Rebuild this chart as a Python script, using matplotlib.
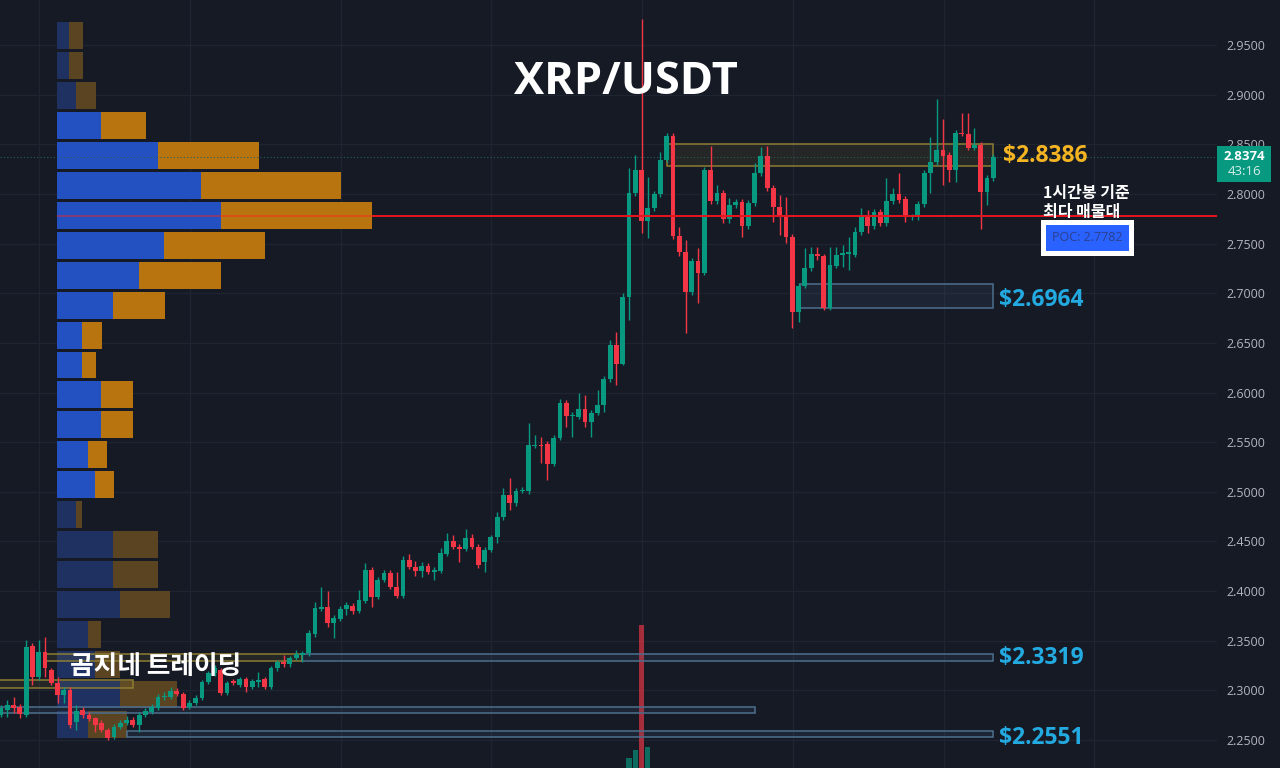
import matplotlib
matplotlib.use("Agg")
import matplotlib.pyplot as plt
import matplotlib.transforms as mtransforms
from matplotlib.patches import Rectangle

plt.rcParams['font.family'] = ['Noto Sans CJK KR', 'DejaVu Sans']

# ---------------------------------------------------------------- data
# XRP/USDT hourly candles
opens = [2.2753, 2.2803, 2.2854, 2.2834, 2.2753, 2.3448, 2.3136, 2.3387, 2.3206, 2.3075,
         2.2954, 2.3005, 2.2683, 2.2803, 2.2753, 2.2723, 2.2672, 2.2602, 2.2531, 2.2632,
         2.2672, 2.2703, 2.2652, 2.2753, 2.2783, 2.2823, 2.2934, 2.2934, 2.2995, 2.2964,
         2.2834, 2.2874, 2.2924, 2.3085, 2.3176, 2.3206, 2.2974, 2.3090, 2.3055, 2.3115,
         2.3035, 2.3090, 2.3115, 2.3035, 2.3226, 2.3287, 2.3267, 2.3327, 2.3357, 2.3377,
         2.3569, 2.3821, 2.3841, 2.3680, 2.3720, 2.3821, 2.3851, 2.3801, 2.3901, 2.4213,
         2.3941, 2.4112, 2.4183, 2.4042, 2.3951, 2.4314, 2.4243, 2.4203, 2.4253, 2.4193,
         2.4203, 2.4374, 2.4505, 2.4444, 2.4424, 2.4535, 2.4444, 2.4293, 2.4414, 2.4545,
         2.4747, 2.4969, 2.4888, 2.5009, 2.5009, 2.5462, 2.5472, 2.5482, 2.5281, 2.5543,
         2.5895, 2.5764, 2.5754, 2.5835, 2.5704, 2.5794, 2.5875, 2.6137, 2.6479, 2.6288,
         2.6962, 2.8010, 2.8241, 2.7728, 2.7859, 2.8000, 2.8342, 2.8584, 2.7577, 2.7416,
         2.7013, 2.7325, 2.7204, 2.8241, 2.7929, 2.8010, 2.7748, 2.7889, 2.7919, 2.7677,
         2.7909, 2.8211, 2.8382, 2.8060, 2.7869, 2.7768, 2.7567, 2.6811, 2.7073, 2.7254,
         2.7395, 2.7375, 2.6852, 2.7275, 2.7390, 2.7400, 2.7385, 2.7617, 2.7768, 2.7677,
         2.7818, 2.7708, 2.7929, 2.8000, 2.7949, 2.7768, 2.7768, 2.7899, 2.8211, 2.8322,
         2.8443, 2.8392, 2.8241, 2.8614, 2.8604, 2.8463, 2.8493, 2.8020, 2.8161]
highs = [2.2850, 2.2904, 2.2934, 2.2860, 2.3508, 2.3480, 2.3508, 2.3538, 2.3230, 2.3136,
         2.3035, 2.3030, 2.2850, 2.2830, 2.2780, 2.2733, 2.2700, 2.2620, 2.2660, 2.2700,
         2.2740, 2.2730, 2.2780, 2.2820, 2.2860, 2.2960, 2.2980, 2.3030, 2.3020, 2.2980,
         2.2900, 2.2950, 2.3110, 2.3200, 2.3260, 2.3230, 2.3100, 2.3120, 2.3140, 2.3140,
         2.3120, 2.3186, 2.3140, 2.3250, 2.3310, 2.3357, 2.3350, 2.3410, 2.3400, 2.3610,
         2.3891, 2.4042, 2.4001, 2.3760, 2.3850, 2.3890, 2.3880, 2.4011, 2.4280, 2.4240,
         2.4140, 2.4210, 2.4210, 2.4193, 2.4354, 2.4374, 2.4304, 2.4294, 2.4280, 2.4240,
         2.4434, 2.4585, 2.4565, 2.4470, 2.4625, 2.4575, 2.4470, 2.4440, 2.4570, 2.4797,
         2.5039, 2.5140, 2.5040, 2.5050, 2.5694, 2.5573, 2.5553, 2.5510, 2.5570, 2.5935,
         2.5920, 2.5800, 2.5996, 2.5975, 2.5820, 2.6026, 2.6170, 2.6529, 2.6610, 2.7000,
         2.8261, 2.8392, 2.9762, 2.8171, 2.8030, 2.8423, 2.8610, 2.8610, 2.7668, 2.7537,
         2.7350, 2.7456, 2.8270, 2.8483, 2.8090, 2.8040, 2.7959, 2.7950, 2.7950, 2.7940,
         2.8312, 2.8473, 2.8483, 2.8090, 2.7990, 2.7970, 2.7600, 2.7100, 2.7456, 2.7466,
         2.7466, 2.7400, 2.7466, 2.7466, 2.7486, 2.7567, 2.7668, 2.7859, 2.7839, 2.7849,
         2.7850, 2.8161, 2.8060, 2.8211, 2.7980, 2.7800, 2.7930, 2.8240, 2.8574, 2.8956,
         2.8755, 2.8420, 2.8640, 2.8815, 2.8815, 2.8664, 2.8520, 2.8190, 2.8400]
lows = [2.2730, 2.2733, 2.2773, 2.2723, 2.2733, 2.3055, 2.3110, 2.3136, 2.3050, 2.2874,
        2.2874, 2.2620, 2.2602, 2.2720, 2.2690, 2.2582, 2.2580, 2.2501, 2.2510, 2.2610,
        2.2650, 2.2630, 2.2582, 2.2730, 2.2760, 2.2800, 2.2900, 2.2910, 2.2940, 2.2800,
        2.2810, 2.2850, 2.2900, 2.3060, 2.3150, 2.2950, 2.2950, 2.3050, 2.3030, 2.2980,
        2.3010, 2.3035, 2.3010, 2.3010, 2.3200, 2.3240, 2.3240, 2.3310, 2.3287, 2.3350,
        2.3540, 2.3800, 2.3640, 2.3529, 2.3700, 2.3760, 2.3770, 2.3780, 2.3880, 2.3841,
        2.3920, 2.4090, 2.4020, 2.3930, 2.3930, 2.4220, 2.4153, 2.4143, 2.4170, 2.4112,
        2.4180, 2.4350, 2.4420, 2.4293, 2.4400, 2.4420, 2.4230, 2.4193, 2.4390, 2.4485,
        2.4720, 2.4818, 2.4860, 2.4990, 2.4980, 2.5440, 2.5291, 2.5120, 2.5260, 2.5520,
        2.5653, 2.5553, 2.5730, 2.5653, 2.5553, 2.5770, 2.5804, 2.6107, 2.6076, 2.6278,
        2.6730, 2.7980, 2.7607, 2.7557, 2.7830, 2.7970, 2.8320, 2.7550, 2.7380, 2.6600,
        2.6980, 2.6902, 2.7180, 2.7900, 2.7900, 2.7708, 2.7708, 2.7860, 2.7567, 2.7650,
        2.7880, 2.8180, 2.8030, 2.7718, 2.7587, 2.7506, 2.6650, 2.6710, 2.7050, 2.7220,
        2.7335, 2.6830, 2.6830, 2.7250, 2.7264, 2.7234, 2.7360, 2.7590, 2.7607, 2.7650,
        2.7680, 2.7680, 2.7900, 2.7910, 2.7718, 2.7738, 2.7740, 2.7870, 2.8010, 2.8290,
        2.8090, 2.8120, 2.8120, 2.8580, 2.8440, 2.8440, 2.7647, 2.7889, 2.8130]
closes = [2.2823, 2.2854, 2.2823, 2.2763, 2.3438, 2.3136, 2.3387, 2.3226, 2.3075, 2.2954,
          2.3005, 2.2652, 2.2793, 2.2753, 2.2713, 2.2652, 2.2602, 2.2521, 2.2632, 2.2672,
          2.2703, 2.2652, 2.2753, 2.2793, 2.2834, 2.2934, 2.2944, 2.2995, 2.2964, 2.2823,
          2.2874, 2.2924, 2.3085, 2.3176, 2.3226, 2.2974, 2.3075, 2.3080, 2.3115, 2.3035,
          2.3095, 2.3100, 2.3035, 2.3226, 2.3287, 2.3267, 2.3327, 2.3367, 2.3377, 2.3579,
          2.3831, 2.3841, 2.3680, 2.3730, 2.3821, 2.3861, 2.3801, 2.3911, 2.4213, 2.3941,
          2.4112, 2.4183, 2.4042, 2.3951, 2.4314, 2.4243, 2.4203, 2.4253, 2.4193, 2.4213,
          2.4384, 2.4505, 2.4444, 2.4424, 2.4535, 2.4444, 2.4263, 2.4414, 2.4545, 2.4747,
          2.4969, 2.4888, 2.5009, 2.5019, 2.5472, 2.5472, 2.5462, 2.5281, 2.5543, 2.5895,
          2.5764, 2.5774, 2.5835, 2.5704, 2.5794, 2.5875, 2.6137, 2.6479, 2.6288, 2.6962,
          2.8010, 2.8241, 2.7728, 2.7859, 2.8000, 2.8342, 2.8584, 2.7577, 2.7416, 2.7013,
          2.7325, 2.7204, 2.8241, 2.7929, 2.8010, 2.7748, 2.7889, 2.7919, 2.7677, 2.7909,
          2.8211, 2.8382, 2.8060, 2.7869, 2.7768, 2.7567, 2.6811, 2.7073, 2.7254, 2.7395,
          2.7375, 2.6852, 2.7285, 2.7385, 2.7400, 2.7410, 2.7617, 2.7768, 2.7677, 2.7818,
          2.7708, 2.7929, 2.8000, 2.7939, 2.7768, 2.7778, 2.7899, 2.8211, 2.8322, 2.8443,
          2.8382, 2.8241, 2.8614, 2.8604, 2.8463, 2.8493, 2.8020, 2.8161, 2.8374]

# Volume profile: 24 price rows from the bottom up (millions XRP)
vp_row_low = 2.2511
vp_row_step = 0.03013
vp_buy = [3.1, 6.3, 3.8, 3.1, 6.3, 5.6, 5.6, 1.9, 3.8, 3.1, 4.4, 4.4,
          2.5, 2.5, 5.6, 8.2, 10.7, 16.4, 14.4, 10.1, 4.4, 1.9, 1.2, 1.2]
vp_sell = [3.9, 5.7, 2.5, 1.3, 5.0, 4.5, 4.5, 0.6, 1.9, 1.9, 3.2, 3.2,
           1.4, 2.0, 5.2, 8.2, 10.1, 15.1, 14.0, 10.1, 4.5, 2.0, 1.4, 1.4]
vp_value_area = range(8, 21)
poc_row = 17
poc_price = 2.7782

# Volume pane bars that reach into the chart
vol_index = [100, 101, 102, 103]
vol_values = [7.2, 12.9, 102.5, 15.1]

last_price = 2.8374
countdown = "43:16"

# Marked zones: (first bar, last bar, low, high, style)
zone_start = [106.0, 127.2, 47.9, 7.0, -1.0, -1.0, 20.1]
zone_end = [158.0, 158.0, 158.0, 47.9, 21.0, 120.1, 158.0]
zone_low = [2.8282, 2.6852, 2.3297, 2.3297, 2.3025, 2.2773, 2.2532]
zone_high = [2.8503, 2.7093, 2.3367, 2.3367, 2.3106, 2.2834, 2.2592]
zone_kind = ['supply', 'demand', 'demand', 'supply', 'supply', 'demand', 'demand']

level_text = ["$2.8386", "$2.6964", "$2.3319", "$2.2551"]
level_price = [2.8382, 2.6932, 2.3327, 2.2521]
level_kind = ['supply', 'demand', 'demand', 'demand']

price_ticks = [2.25, 2.30, 2.35, 2.40, 2.45, 2.50, 2.55, 2.60,
               2.65, 2.70, 2.75, 2.80, 2.85, 2.90, 2.95]
time_grid = [6.1, 30.1, 54.1, 78.1, 102.1, 126.1, 150.1, 174.1]

# ---------------------------------------------------------------- style
BG = '#161a25'
GRID = '#1f2431'
UP = '#089981'
DOWN = '#f23645'
AXIS_TXT = '#b2b5be'
VP_BLUE, VP_ORANGE = '#2451c2', '#b8740e'
VP_BLUE_DIM, VP_ORANGE_DIM = '#1e3161', '#5a4422'
ZONE_EDGE = {'supply': '#8d7d33', 'demand': '#4c6f8e'}
ZONE_FACE = {'supply': (0.55, 0.49, 0.20, 0.13), 'demand': (0.30, 0.45, 0.60, 0.13)}
LEVEL_COLOR = {'supply': '#f5b523', 'demand': '#23aae1'}
LATIN = ['Open Sans', 'DejaVu Sans']

XLIM = (-0.16, -0.16 + 1217 / 6.28)
YLIM = (2.2219, 2.9953)

fig = plt.figure(figsize=(12.8, 7.68), dpi=100, facecolor=BG)
rect = [0, 0, 1217 / 1280, 1]

ax_grid = fig.add_axes(rect, zorder=0)
ax_vp = fig.add_axes(rect, zorder=1)
ax_vol = fig.add_axes(rect, zorder=2)
ax = fig.add_axes(rect, zorder=3)

ax_grid.set_facecolor(BG)
for a in (ax_vp, ax_vol, ax):
    a.patch.set_visible(False)
for a in (ax_grid, ax_vp, ax_vol, ax):
    for s in a.spines.values():
        s.set_visible(False)
    a.set_ylim(*YLIM)
for a in (ax_grid, ax_vp, ax_vol):
    a.set_xticks([])
    a.set_yticks([])
for a in (ax_grid, ax_vol, ax):
    a.set_xlim(*XLIM)

# grid
for p in price_ticks:
    ax_grid.axhline(p, color=GRID, lw=1)
for t in time_grid:
    ax_grid.axvline(t, color=GRID, lw=1)

# volume profile
ax_vp.set_xlim(-5.7, 116.0)
for k in range(len(vp_buy)):
    yc = vp_row_low + (k + 0.5) * vp_row_step
    bright = k in vp_value_area
    ax_vp.barh(yc, vp_buy[k], left=0, height=vp_row_step * 0.9,
               color=VP_BLUE if bright else VP_BLUE_DIM, lw=0)
    ax_vp.barh(yc, vp_sell[k], left=vp_buy[k], height=vp_row_step * 0.9,
               color=VP_ORANGE if bright else VP_ORANGE_DIM, lw=0)

# volume pane
ax_vol.set_ylim(0, 550)
for i, v in zip(vol_index, vol_values):
    c = UP if closes[i] >= opens[i] else DOWN
    ax_vol.bar(i, v, width=0.8, color=c, alpha=0.65, lw=0)

# zones
for x0, x1, lo, hi, kind in zip(zone_start, zone_end, zone_low, zone_high, zone_kind):
    ax.add_patch(Rectangle((x0, lo), x1 - x0, hi - lo, facecolor=ZONE_FACE[kind],
                           edgecolor=ZONE_EDGE[kind], lw=1.1, zorder=1))

# candles
for i, (o, h, l, c) in enumerate(zip(opens, highs, lows, closes)):
    col = UP if c >= o else DOWN
    ax.vlines(i, l, h, color=col, lw=1, zorder=2)
    body = max(abs(c - o), 0.0012)
    ax.bar(i, body, bottom=min(o, c), width=0.76, color=col, lw=0, zorder=2)

# current price line
ax.axhline(last_price, color='#2a5f5a', lw=0.8, ls=(0, (1, 2)), zorder=1.5)

# POC line, starting at the profile
vp_x = mtransforms.blended_transform_factory(ax_vp.transData, ax.transData)
poc_total = vp_buy[poc_row] + vp_sell[poc_row]
ax.plot([0, poc_total], [poc_price, poc_price], color='#ff2020', lw=1.4,
        alpha=0.45, transform=vp_x, zorder=3, solid_capstyle='butt')
ax.plot([poc_total, 116.0], [poc_price, poc_price], color='#e8141e', lw=1.4,
        transform=vp_x, zorder=3, solid_capstyle='butt')

# texts
ax.text(99.5, 2.9127, "XRP/USDT", ha='center', va='center', fontsize=32.5,
        fontweight='bold', color='white', family=LATIN, zorder=6)
for txt, p, kind in zip(level_text, level_price, level_kind):
    x_left = 159.5 if kind == 'supply' else 158.9
    ax.text(x_left, p, txt, ha='left', va='center', fontsize=16.5, fontweight='bold',
            color=LEVEL_COLOR[kind], family=LATIN, zorder=6)

ax.text(165.9, 2.8010, "1시간봉 기준", ha='left', va='center', fontsize=11.5,
        fontweight='bold', color='white', zorder=6)
ax.text(165.9, 2.7818, "최다 매물대", ha='left', va='center', fontsize=11.5,
        fontweight='bold', color='white', zorder=6)
ax.text(173.0, 2.7562, f"POC: {poc_price:.4f}", ha='center', va='center', fontsize=9,
        color='#2c3f8c', family=LATIN, zorder=6,
        bbox=dict(boxstyle='square,pad=0.7', fc='#2962ff', ec='white', lw=3.6))

ax.text(11.0, 2.3237, "곰지네 트레이딩", ha='left', va='center', fontsize=18.5,
        fontweight='bold', color='white', zorder=6)

# price axis
ax.yaxis.tick_right()
ax.set_yticks(price_ticks)
ax.set_yticklabels([f"{p:.4f}" for p in price_ticks])
ax.tick_params(axis='y', length=0, pad=7, labelsize=9, labelcolor=AXIS_TXT)
for lab in ax.get_yticklabels():
    lab.set_family(LATIN)
ax.set_xticks([])

# last price tag
tag = mtransforms.blended_transform_factory(ax.transAxes, ax.transData)
ax.add_patch(Rectangle((1.0, last_price - 0.0253), 54 / 1217, 0.0362, transform=tag,
                       facecolor=UP, edgecolor='none', clip_on=False, zorder=7))
ax.text(1.0222, last_price, f"{last_price:.4f}", transform=tag, ha='center', va='center',
        fontsize=9.5, fontweight='bold', color='white', family=LATIN,
        zorder=8, clip_on=False)
ax.text(1.0222, last_price - 0.0153, countdown, transform=tag, ha='center', va='center',
        fontsize=9.5, color='#d8efe9', family=LATIN, zorder=8, clip_on=False)

fig.savefig("out.png", dpi=100, facecolor=BG)
